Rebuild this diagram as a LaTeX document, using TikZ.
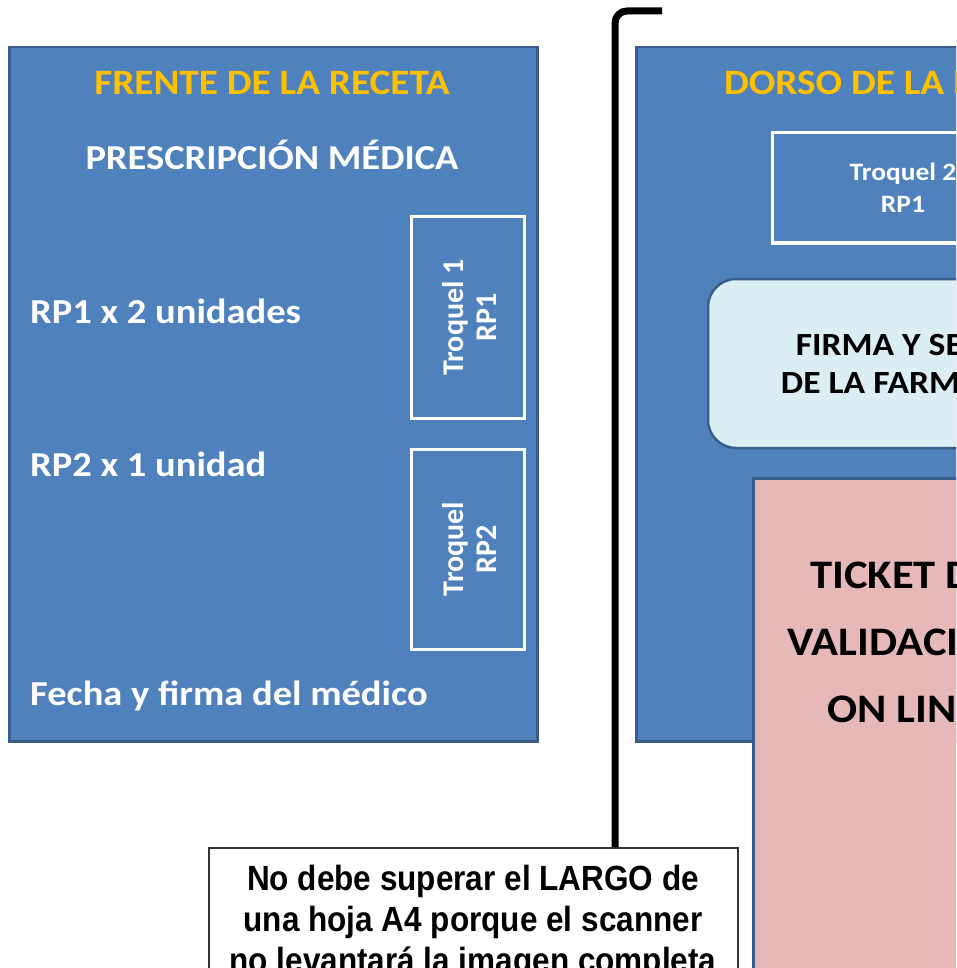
\documentclass[tikz,border=0pt]{standalone}
\usepackage{fontspec}
\setmainfont{Carlito}[FakeStretch=1.1]
\newfontfamily\sidefont{Carlito}
\newfontfamily\notefont[FakeStretch=0.9]{Liberation Sans}
\usepackage{xcolor}
\usetikzlibrary{positioning}
\definecolor{cardblue}{RGB}{79,129,189}
\definecolor{cardedge}{RGB}{56,93,138}
\definecolor{titleyellow}{RGB}{255,192,0}
\definecolor{sealblue}{RGB}{219,238,244}
\definecolor{ticketpink}{RGB}{230,185,184}

\begin{document}
\begin{tikzpicture}[
    x=1pt, y=-1pt,
    card/.style={rectangle, draw=cardedge, line width=2.5pt, fill=cardblue, anchor=north west, inner sep=0pt},
    troquel/.style={rectangle, draw=white, line width=3pt, inner sep=0pt, align=center, text=white, font=\fontsize{25}{32}\selectfont\bfseries},
    sidelabel/.style={rotate=90, inner sep=0pt, align=center, text=white, font=\sidefont\fontsize{30}{33}\selectfont\bfseries},
    cardtitle/.style={font=\fontsize{35.7}{40}\selectfont\bfseries, text=titleyellow, anchor=base, inner sep=0pt},
    cardtext/.style={font=\fontsize{35}{40}\selectfont\bfseries, text=white, inner sep=0pt},
    blacktext/.style={align=center, text=black, inner sep=0pt, anchor=base}
]
\useasboundingbox (0,0) rectangle (956,968);
\clip (0,0) rectangle (956,968);

% Front of the prescription
\node[card, minimum width=528pt, minimum height=694pt] (front) at (8,46) {};
\node[cardtitle] (fronttitle) at (272,95) {FRENTE DE LA RECETA};
\node[cardtext, anchor=base] (prescription) at (272,170) {PRESCRIPCIÓN MÉDICA};
\node[cardtext, anchor=base west] (rpone) at (30,323) {RP1 x 2 unidades};
\node[cardtext, anchor=base west] (rptwo) at (30,476) {RP2 x 1 unidad};
\node[cardtext, anchor=base west] (signdoc) at (30,705) {Fecha y firma del médico};
\node[troquel, minimum width=113pt, minimum height=201pt] (troqone) at (467.5,317.5) {};
\node[sidelabel] (troqonetext) at ([xshift=2pt]troqone.center) {Troquel 1\\RP1};
\node[troquel, minimum width=113pt, minimum height=200pt] (troqtwo) at (467.5,549) {};
\node[sidelabel] (troqtwotext) at ([xshift=2pt]troqtwo.center) {Troquel\\RP2};

% Back of the prescription
\node[card, minimum width=528pt, minimum height=694pt] (back) at (635,46) {};
\node[cardtitle] (backtitle) at (899,95) {DORSO DE LA RECETA};
\node[troquel, minimum width=262pt, minimum height=110pt] (troqback) at (903,188) {Troquel 2\\RP1};
\node[rectangle, rounded corners=28pt, draw=cardedge, line width=2.5pt, fill=sealblue,
      minimum width=396pt, minimum height=169pt] (seal) at (906,363.5) {};
\node[blacktext, font=\fontsize{32.3}{38}\selectfont\bfseries] (sealtext) at (906,393) {FIRMA Y SELLO\\DE LA FARMACIA};
\node[rectangle, draw=cardedge, line width=2.5pt, fill=ticketpink, anchor=north west,
      minimum width=302pt, minimum height=600pt] (ticket) at (752,477) {};
\node[blacktext, font=\fontsize{40.5}{67}\selectfont\bfseries] (tickettext) at (903,722) {TICKET DE\\VALIDACIÓN\\ON LINE};

% Note about the scanner
\node[rectangle, draw=black!80, line width=2pt, fill=white, anchor=north west,
      minimum width=529pt, minimum height=200pt] (note) at (208,847) {};
\node[blacktext, font=\notefont\fontsize{35}{41}\selectfont\bfseries] (notetext) at (473,972)
    {No debe superar el LARGO de\\una hoja A4 porque el scanner\\no levantará la imagen completa};

% Bracket
\coordinate (hook) at (662,11);
\coordinate (bend) at (615,11);
\draw[line width=7pt, rounded corners=12pt] (hook) -- (bend) -- (bend |- note.north);
\end{tikzpicture}
\end{document}
